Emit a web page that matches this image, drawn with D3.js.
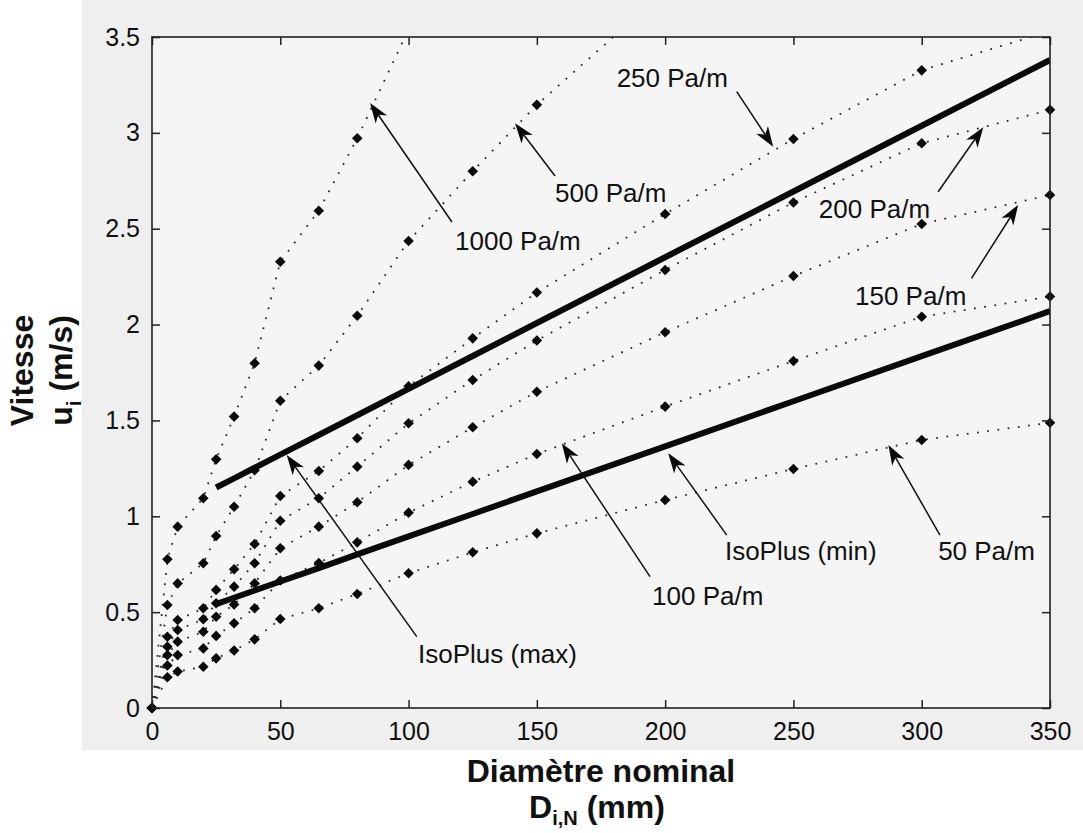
<!DOCTYPE html>
<html>
<head>
<meta charset="utf-8">
<script src="https://cdn.jsdelivr.net/npm/d3@7"></script>
<style>
  html, body { margin: 0; padding: 0; background: #ffffff; }
  svg { display: block; }
  text { font-family: "Liberation Sans", Arial, Helvetica, sans-serif; fill: #111; }
</style>
</head>
<body>
<svg id="chart" width="1083" height="833"></svg>
<script>
// ---------- data ----------
const diameters = [0, 6, 10, 20, 25, 32, 40, 50, 65, 80, 100, 125, 150, 200, 250, 300, 350];

const v50   = [0, 0.160, 0.190, 0.215, 0.259, 0.300, 0.358, 0.464, 0.520, 0.595, 0.703, 0.812, 0.911, 1.085, 1.247, 1.398, 1.488];
const v100  = [0, 0.222, 0.276, 0.311, 0.376, 0.442, 0.520, 0.665, 0.756, 0.864, 1.019, 1.180, 1.325, 1.572, 1.810, 2.041, 2.146];
const v150  = [0, 0.276, 0.346, 0.398, 0.476, 0.540, 0.650, 0.833, 0.946, 1.073, 1.268, 1.464, 1.650, 1.960, 2.253, 2.525, 2.676];
const v200  = [0, 0.320, 0.407, 0.463, 0.546, 0.633, 0.755, 0.977, 1.094, 1.259, 1.485, 1.711, 1.917, 2.285, 2.637, 2.946, 3.120];
const v250  = [0, 0.372, 0.459, 0.520, 0.616, 0.724, 0.855, 1.106, 1.236, 1.407, 1.678, 1.928, 2.167, 2.577, 2.968, 3.326, 3.530];
const v500  = [0, 0.537, 0.650, 0.755, 0.897, 1.050, 1.240, 1.603, 1.786, 2.046, 2.436, 2.800, 3.146, 3.740];
const v1000 = [0, 0.776, 0.946, 1.094, 1.297, 1.520, 1.798, 2.328, 2.594, 2.972, 3.540];

const isoDiameters = [25, 32, 40, 50, 65, 80, 100, 125, 150, 200, 250, 300, 350];
const isoMax = [1.150, 1.198, 1.253, 1.322, 1.424, 1.527, 1.665, 1.836, 2.008, 2.351, 2.694, 3.037, 3.380];
const isoMin = [0.542, 0.575, 0.613, 0.660, 0.730, 0.801, 0.895, 1.012, 1.130, 1.365, 1.600, 1.835, 2.070];

const xTicks = [0, 50, 100, 150, 200, 250, 300, 350];
const yTicks = [0, 0.5, 1, 1.5, 2, 2.5, 3, 3.5];

// annotations: label, label anchor (data units), arrow tail and head (data units)
const annotations = [
  { text: "1000 Pa/m",     tx: 118.1, ty: 2.389, ax: 116.9, ay: 2.535, hx: 85.0,  hy: 3.156 },
  { text: "500 Pa/m",      tx: 157.1, ty: 2.640, ax: 157.1, ay: 2.775, hx: 141.5, hy: 3.050 },
  { text: "250 Pa/m",      tx: 181.1, ty: 3.240, ax: 227.9, ay: 3.215, hx: 242.1, hy: 2.928 },
  { text: "200 Pa/m",      tx: 259.9, ty: 2.556, ax: 306.4, ay: 2.693, hx: 324.0, hy: 3.029 },
  { text: "150 Pa/m",      tx: 274.0, ty: 2.102, ax: 319.4, ay: 2.241, hx: 337.6, hy: 2.624 },
  { text: "50 Pa/m",       tx: 306.4, ty: 0.772, ax: 307.1, ay: 0.902, hx: 287.0, hy: 1.372 },
  { text: "IsoPlus (min)", tx: 223.3, ty: 0.772, ax: 224.0, ay: 0.902, hx: 201.2, hy: 1.329 },
  { text: "100 Pa/m",      tx: 194.9, ty: 0.537, ax: 194.1, ay: 0.685, hx: 159.7, hy: 1.381 },
  { text: "IsoPlus (max)", tx: 103.7, ty: 0.235, ax: 103.2, ay: 0.372, hx: 52.5,  hy: 1.320 }
];

// ---------- layout ----------
const svg = d3.select("#chart");
const W = 1083, H = 833;
const m = { left: 152, top: 37, right: 1050, bottom: 708 };

svg.append("rect").attr("x", 82).attr("y", 0).attr("width", W - 82).attr("height", 750).attr("fill", "#efefef");
svg.append("rect").attr("x", m.left).attr("y", m.top)
   .attr("width", m.right - m.left).attr("height", m.bottom - m.top).attr("fill", "#f5f5f5");

const x = d3.scaleLinear().domain([0, 350]).range([m.left, m.right]);
const y = d3.scaleLinear().domain([0, 3.5]).range([m.bottom, m.top]);

svg.append("clipPath").attr("id", "plotclip")
  .append("rect").attr("x", m.left).attr("y", m.top)
  .attr("width", m.right - m.left).attr("height", m.bottom - m.top);

const series = [v50, v100, v150, v200, v250, v500, v1000].map(vals =>
  vals.map((v, i) => ({ d: diameters[i], v: v })));

const line = d3.line().x(p => x(p.d)).y(p => y(p.v)).curve(d3.curveLinear);

const plot = svg.append("g").attr("clip-path", "url(#plotclip)");

// dotted series lines
plot.selectAll("path.series").data(series).join("path")
  .attr("class", "series")
  .attr("d", line)
  .attr("fill", "none")
  .attr("stroke", "#2a2a2a")
  .attr("stroke-width", 1.8)
  .attr("stroke-dasharray", "1.8 8.5");

// IsoPlus thick lines
[isoMax, isoMin].forEach(vals => {
  const pts = vals.map((v, i) => ({ d: isoDiameters[i], v: v }));
  plot.append("path").attr("d", line(pts))
    .attr("fill", "none").attr("stroke", "#0a0a0a").attr("stroke-width", 6)
    .attr("stroke-linecap", "butt");
});

// diamond markers
const diamond = d3.symbol().type(d3.symbolSquare).size(56);
const allPts = series.flat().filter(p => p.v <= 3.5);
svg.append("g").selectAll("path.mk").data(allPts).join("path")
  .attr("class", "mk")
  .attr("d", diamond)
  .attr("transform", p => `translate(${x(p.d)},${y(p.v)}) rotate(45)`)
  .attr("fill", "#0a0a0a");

// ---------- axes ----------
const fmt = d3.format("~g");
const axStyle = g => {
  g.selectAll(".domain").remove();
  g.selectAll(".tick line").attr("stroke", "#222").attr("stroke-width", 1.5);
  g.selectAll(".tick text").attr("font-size", 25).attr("fill", "#111")
    .attr("font-family", '"Liberation Sans", Arial, sans-serif');
};

svg.append("g").attr("transform", `translate(0,${m.bottom})`)
  .call(d3.axisBottom(x).tickValues(xTicks).tickFormat(fmt).tickSizeInner(-8).tickSizeOuter(0).tickPadding(14))
  .call(axStyle);
svg.append("g").attr("transform", `translate(0,${m.top})`)
  .call(d3.axisTop(x).tickValues(xTicks).tickFormat("").tickSizeInner(-8).tickSizeOuter(0))
  .call(axStyle);
svg.append("g").attr("transform", `translate(${m.left},0)`)
  .call(d3.axisLeft(y).tickValues(yTicks).tickFormat(fmt).tickSizeInner(-8).tickSizeOuter(0).tickPadding(12))
  .call(axStyle);
svg.append("g").attr("transform", `translate(${m.right},0)`)
  .call(d3.axisRight(y).tickValues(yTicks).tickFormat("").tickSizeInner(-8).tickSizeOuter(0))
  .call(axStyle);

svg.append("rect").attr("x", m.left).attr("y", m.top)
  .attr("width", m.right - m.left).attr("height", m.bottom - m.top)
  .attr("fill", "none").attr("stroke", "#222").attr("stroke-width", 1.6);

// ---------- annotations ----------
const ann = svg.append("g");
annotations.forEach(a => {
  const x1 = x(a.ax), y1 = y(a.ay), x2 = x(a.hx), y2 = y(a.hy);
  const dx = x2 - x1, dy = y2 - y1, len = Math.hypot(dx, dy);
  const ux = dx / len, uy = dy / len, px = -uy, py = ux;
  const L = 20, Wd = 7;
  const bx = x2 - ux * L, by = y2 - uy * L;
  ann.append("line").attr("x1", x1).attr("y1", y1)
    .attr("x2", x2 - ux * L * 0.7).attr("y2", y2 - uy * L * 0.7)
    .attr("stroke", "#111").attr("stroke-width", 1.5);
  const pts = [
    [x2, y2],
    [bx + px * Wd, by + py * Wd],
    [x2 - ux * L * 0.72, y2 - uy * L * 0.72],
    [bx - px * Wd, by - py * Wd]
  ];
  ann.append("path").attr("d", "M" + pts.map(p => p.join(",")).join("L") + "Z").attr("fill", "#0a0a0a");
  ann.append("text").attr("x", x(a.tx)).attr("y", y(a.ty))
    .attr("font-size", 26).text(a.text);
});

// ---------- axis titles ----------
svg.append("text").attr("x", (m.left + m.right) / 2).attr("y", 782)
  .attr("text-anchor", "middle").attr("font-size", 32).attr("font-weight", "bold")
  .text("Diamètre nominal");
const xl2 = svg.append("text").attr("x", (m.left + m.right) / 2 - 4).attr("y", 818)
  .attr("text-anchor", "middle").attr("font-size", 32).attr("font-weight", "bold");
xl2.append("tspan").text("D");
xl2.append("tspan").attr("font-size", 20).attr("dy", 7).text("i,N");
xl2.append("tspan").attr("dy", -7).text(" (mm)");

const yc = (m.top + m.bottom) / 2 - 2;
svg.append("text").attr("transform", `translate(33,${yc}) rotate(-90)`)
  .attr("text-anchor", "middle").attr("font-size", 32).attr("font-weight", "bold")
  .text("Vitesse");
const yl2 = svg.append("text").attr("transform", `translate(72,${yc}) rotate(-90)`)
  .attr("text-anchor", "middle").attr("font-size", 32).attr("font-weight", "bold");
yl2.append("tspan").text("u");
yl2.append("tspan").attr("font-size", 21).attr("dy", 9).text("i");
yl2.append("tspan").attr("dy", -9).text(" (m/s)");
</script>
</body>
</html>
